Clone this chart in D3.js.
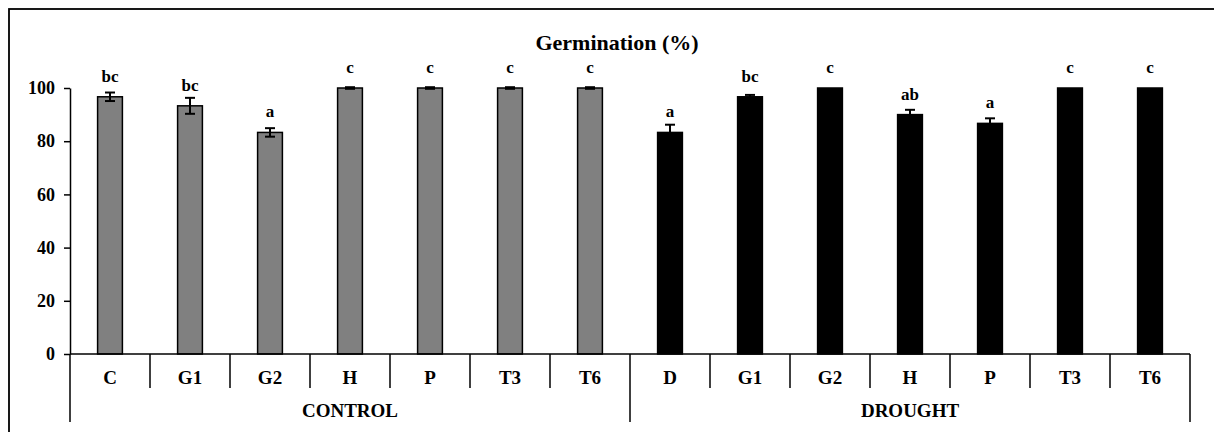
<!DOCTYPE html>
<html>
<head>
<meta charset="utf-8">
<script src="https://cdn.jsdelivr.net/npm/d3@7"></script>
<style>
  html, body { margin: 0; padding: 0; background: #fff; }
  svg { display: block; }
  text { font-family: "Liberation Serif", "Times New Roman", serif; font-weight: bold; fill: #000; }
</style>
</head>
<body>
<svg id="chart" width="1214" height="432"></svg>
<script>
// Germination percentage per treatment, under control and drought conditions
const groups = ["CONTROL", "DROUGHT"];
const controlCats = ["C", "G1", "G2", "H", "P", "T3", "T6"];
const droughtCats = ["D", "G1", "G2", "H", "P", "T3", "T6"];
const controlValues = [96.7, 93.3, 83.3, 100, 100, 100, 100];
const droughtValues = [83.3, 96.7, 100, 90.0, 86.7, 100, 100];
const controlErrors = [1.6, 3.0, 1.6, 0.3, 0.3, 0.3, 0.3];
const droughtErrors = [2.9, 0.7, 0, 1.8, 1.9, 0, 0];
const controlLetters = ["bc", "bc", "a", "c", "c", "c", "c"];
const droughtLetters = ["a", "bc", "c", "ab", "a", "c", "c"];
const yTicks = [0, 20, 40, 60, 80, 100];
const titleText = "Germination (%)";

const rows = [];
controlCats.forEach((c, i) => rows.push({ group: 0, cat: c, v: controlValues[i], e: controlErrors[i], l: controlLetters[i] }));
droughtCats.forEach((c, i) => rows.push({ group: 1, cat: c, v: droughtValues[i], e: droughtErrors[i], l: droughtLetters[i] }));

const svg = d3.select("#chart");
const plotLeft = 70, plotRight = 1190, plotTop = 88, plotBottom = 354;

const x = d3.scaleBand().domain(d3.range(rows.length)).range([plotLeft, plotRight]).padding(0);
const y = d3.scaleLinear().domain([0, 100]).range([plotBottom, plotTop]);
const barW = x.bandwidth() * 0.31;
const fills = ["#808080", "#000000"];

// outer frame
svg.append("rect").attr("x", 9).attr("y", 9).attr("width", 1230).attr("height", 450)
  .attr("fill", "none").attr("stroke", "#000").attr("stroke-width", 1.8);

// title
svg.append("text").attr("x", 617).attr("y", 50).attr("text-anchor", "middle")
  .style("font-size", "22px").text(titleText);

// bars
svg.append("g").selectAll("rect").data(rows).join("rect")
  .attr("x", (d, i) => x(i) + (x.bandwidth() - barW) / 2)
  .attr("y", d => y(d.v))
  .attr("width", barW)
  .attr("height", d => y(0) - y(d.v))
  .attr("fill", d => fills[d.group])
  .attr("stroke", "#000").attr("stroke-width", 1.5);

// error bars
const eg = svg.append("g").attr("stroke", "#000").attr("stroke-width", 2);
rows.forEach((d, i) => {
  if (d.e <= 0) return;
  const cx = x(i) + x.bandwidth() / 2;
  const capHalf = 5;
  eg.append("line").attr("x1", cx).attr("x2", cx).attr("y1", y(d.v - d.e)).attr("y2", y(d.v + d.e));
  eg.append("line").attr("x1", cx - capHalf).attr("x2", cx + capHalf).attr("y1", y(d.v + d.e)).attr("y2", y(d.v + d.e));
  eg.append("line").attr("x1", cx - capHalf).attr("x2", cx + capHalf).attr("y1", y(d.v - d.e)).attr("y2", y(d.v - d.e));
});

// significance letters
svg.append("g").selectAll("text").data(rows).join("text")
  .attr("x", (d, i) => x(i) + x.bandwidth() / 2)
  .attr("y", d => y(d.v) - 15)
  .attr("text-anchor", "middle")
  .style("font-size", "17px")
  .text(d => d.l);

// y axis
const yAxis = d3.axisLeft(y).tickValues(yTicks).tickSize(6).tickPadding(9).tickSizeOuter(0);
const ya = svg.append("g").attr("transform", `translate(${plotLeft},0)`).call(yAxis);
ya.select(".domain").attr("stroke", "#000").attr("stroke-width", 1.5);
ya.selectAll(".tick line").attr("stroke", "#000").attr("stroke-width", 1.5);
ya.selectAll(".tick text").style("font-size", "18px").style("font-family", "Liberation Serif, serif").attr("fill", "#000");

// x axis baseline
svg.append("line").attr("x1", plotLeft).attr("x2", plotRight).attr("y1", plotBottom).attr("y2", plotBottom)
  .attr("stroke", "#000").attr("stroke-width", 1.5);

// category separators
const bounds = d3.range(rows.length + 1).map(i => i < rows.length ? x(i) : plotRight);
svg.append("g").selectAll("line").data(bounds).join("line")
  .attr("x1", d => d).attr("x2", d => d)
  .attr("y1", plotBottom).attr("y2", (d, i) => (i % controlCats.length === 0) ? 422 : 388)
  .attr("stroke", "#000").attr("stroke-width", 1.5);

// category labels
svg.append("g").selectAll("text").data(rows).join("text")
  .attr("x", (d, i) => x(i) + x.bandwidth() / 2)
  .attr("y", 384)
  .attr("text-anchor", "middle")
  .style("font-size", "19px")
  .text(d => d.cat);

// group labels
svg.append("g").selectAll("text").data(groups).join("text")
  .attr("x", (d, g) => {
    const n = controlCats.length;
    return (x(g * n) + (g === groups.length - 1 ? plotRight : x((g + 1) * n))) / 2;
  })
  .attr("y", 417)
  .attr("text-anchor", "middle")
  .style("font-size", "19px")
  .text(d => d);
</script>
</body>
</html>
